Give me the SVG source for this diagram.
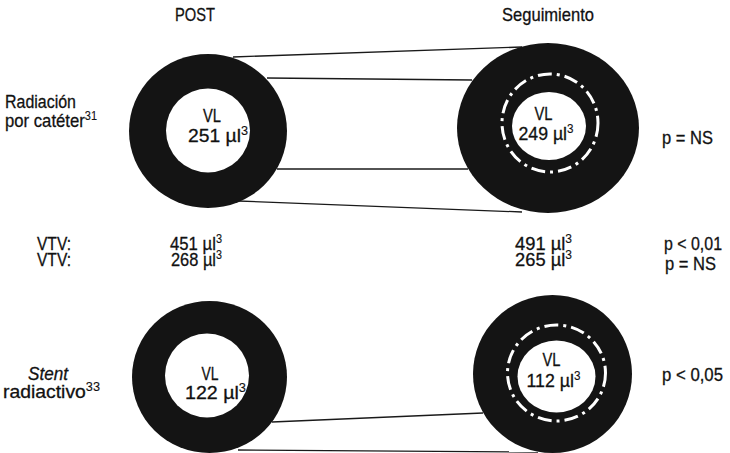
<svg xmlns="http://www.w3.org/2000/svg" width="730" height="453" viewBox="0 0 730 453">
<style>
text{font-family:"Liberation Sans",Arial,sans-serif;font-size:19px;fill:#111;stroke:#111;stroke-width:0.3}
.m{text-anchor:middle}
.sup{font-size:12.5px;stroke-width:0.1}
.ring{fill:#141414}
.lumen{fill:#fff}
.dash{fill:none;stroke:#fff;stroke-width:3;stroke-dasharray:14 5 3 5}
.conn{stroke:#1a1a1a;stroke-width:1.3;fill:none}
</style>
<rect width="730" height="453" fill="#fff"/>
<g id="connectors">
<line class="conn" x1="233" y1="57" x2="522" y2="47"/>
<line class="conn" x1="267" y1="78" x2="472" y2="80"/>
<line class="conn" x1="277" y1="169" x2="468" y2="169"/>
<line class="conn" x1="238" y1="201" x2="522" y2="212"/>
<line class="conn" x1="272" y1="422" x2="483" y2="413"/>
<line class="conn" x1="238" y1="450" x2="538" y2="452"/>
</g>
<g id="headers">
<text x="175" y="21" textLength="40" lengthAdjust="spacingAndGlyphs">POST</text>
<text x="502" y="21" textLength="92" lengthAdjust="spacingAndGlyphs">Seguimiento</text>
</g>
<g id="node-post-radiacion">
<ellipse class="ring" cx="208" cy="131" rx="79" ry="77"/>
<circle class="lumen" cx="208" cy="130.5" r="42"/>
<text class="m" x="212" y="122" textLength="18" lengthAdjust="spacingAndGlyphs">VL</text>
<text class="m" x="218" y="142" textLength="60" lengthAdjust="spacingAndGlyphs">251 µl<tspan class="sup" dy="-7">3</tspan></text>
</g>
<g id="node-seg-radiacion">
<ellipse class="ring" cx="548" cy="128" rx="91" ry="85"/>
<ellipse class="dash" cx="550" cy="123" rx="48" ry="49"/>
<ellipse class="lumen" cx="549" cy="126" rx="37" ry="34"/>
<text class="m" x="543.5" y="120" textLength="18" lengthAdjust="spacingAndGlyphs">VL</text>
<text class="m" x="546" y="140" textLength="55" lengthAdjust="spacingAndGlyphs">249 µl<tspan class="sup" dy="-7">3</tspan></text>
</g>
<g id="node-post-stent">
<ellipse class="ring" cx="209.5" cy="377" rx="77.5" ry="76"/>
<circle class="lumen" cx="207" cy="375.5" r="42"/>
<text class="m" x="210" y="380" textLength="17" lengthAdjust="spacingAndGlyphs">VL</text>
<text class="m" x="215.5" y="399" textLength="61" lengthAdjust="spacingAndGlyphs">122  µl<tspan class="sup" dy="-7">3</tspan></text>
</g>
<g id="node-seg-stent">
<ellipse class="ring" cx="552.5" cy="374" rx="79.5" ry="79"/>
<ellipse class="dash" cx="556.5" cy="373" rx="49" ry="48"/>
<ellipse class="lumen" cx="556.5" cy="376.5" rx="39" ry="36"/>
<text class="m" x="551.5" y="366" textLength="18" lengthAdjust="spacingAndGlyphs">VL</text>
<text class="m" x="553.5" y="387" textLength="54" lengthAdjust="spacingAndGlyphs">112 µl<tspan class="sup" dy="-7">3</tspan></text>
</g>
<g id="labels">
<text x="5" y="108" textLength="71" lengthAdjust="spacingAndGlyphs">Radiación</text>
<text x="5" y="127" textLength="92" lengthAdjust="spacingAndGlyphs">por catéter<tspan class="sup" dy="-7">31</tspan></text>
<text x="28" y="380" textLength="40" lengthAdjust="spacingAndGlyphs" font-style="italic">Stent</text>
<text x="3" y="398" textLength="97" lengthAdjust="spacingAndGlyphs">radiactivo<tspan class="sup" dy="-7">33</tspan></text>
<text x="37" y="250" textLength="34" lengthAdjust="spacingAndGlyphs">VTV:</text>
<text x="37" y="266" textLength="34" lengthAdjust="spacingAndGlyphs">VTV:</text>
<text x="170" y="250" textLength="52" lengthAdjust="spacingAndGlyphs">451 µl<tspan class="sup" dy="-7">3</tspan></text>
<text x="171" y="266" textLength="51" lengthAdjust="spacingAndGlyphs">268 µl<tspan class="sup" dy="-7">3</tspan></text>
<text x="515" y="250" textLength="57" lengthAdjust="spacingAndGlyphs">491 µl<tspan class="sup" dy="-7">3</tspan></text>
<text x="515" y="266" textLength="57" lengthAdjust="spacingAndGlyphs">265 µl<tspan class="sup" dy="-7">3</tspan></text>
<text x="662" y="144" textLength="51" lengthAdjust="spacingAndGlyphs">p = NS</text>
<text x="664" y="250" textLength="58" lengthAdjust="spacingAndGlyphs">p &lt; 0,01</text>
<text x="665" y="270" textLength="51" lengthAdjust="spacingAndGlyphs">p = NS</text>
<text x="662" y="381" textLength="61" lengthAdjust="spacingAndGlyphs">p &lt; 0,05</text>
</g>
</svg>
